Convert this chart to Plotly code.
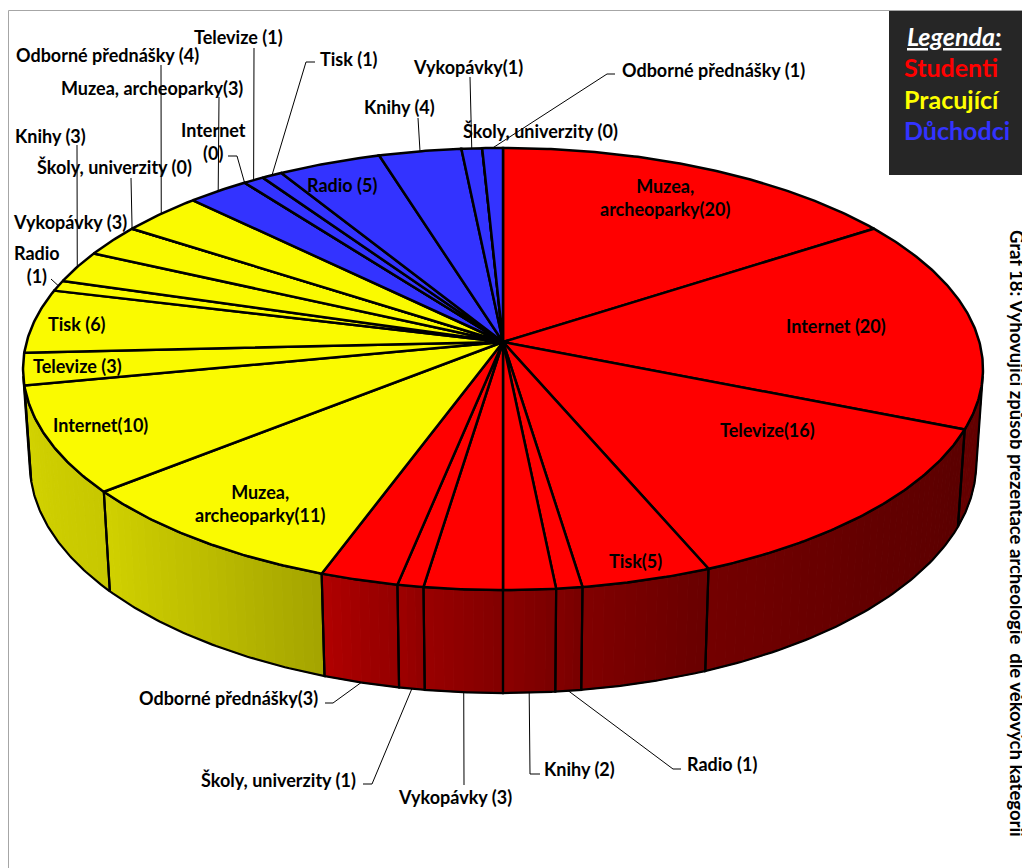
import numpy as np
import plotly.graph_objects as go

# ---------------- data ----------------
categories = ["Muzea, archeoparky", "Internet", "Televize", "Tisk", "Radio",
              "Knihy", "Vykopávky", "Školy, univerzity", "Odborné přednášky"]
groups = ["Studenti", "Pracující", "Důchodci"]
studenti = [20, 20, 16, 5, 1, 2, 3, 1, 3]
pracujici = [11, 10, 3, 6, 1, 3, 3, 0, 4]
duchodci = [3, 0, 1, 1, 5, 4, 1, 0, 1]
series = [studenti, pracujici, duchodci]

# ---------------- styles ----------------
TOP_COLORS = [(255, 0, 0), (250, 250, 0), (51, 51, 255)]
LEGEND_COLORS = ["#FF0000", "#FFFF00", "#3333FF"]
FONT = "Lato"
LABEL_SIZE = 18

# label layout per slice: (display name, separator, x, y, xanchor, leader elbow points)
LABELS = [
    [  # Studenti
        ("Muzea,<br>archeoparky", "", 665, 197, "center", None),
        ("Internet", " ", 836, 326, "center", None),
        ("Televize", "", 767, 430, "center", None),
        ("Tisk", "", 635, 561, "center", None),
        ("Radio", " ", 685, 764, "left", [(673, 769), (681, 769)]),
        ("Knihy", " ", 542, 769, "left", [(530, 774), (540, 774)]),
        ("Vykopávky", " ", 455, 797, "center", [(464, 785)]),
        ("Školy, univerzity", " ", 358, 780, "right", [(372, 784), (363, 784)]),
        ("Odborné přednášky", "", 320, 698, "right", [(333, 703), (325, 703)]),
    ],
    [  # Pracující
        ("Muzea,<br>archeoparky", "", 260, 503, "center", None),
        ("Internet", "", 100, 425, "center", None),
        ("Televize", " ", 77, 366, "center", None),
        ("Tisk", " ", 77, 324, "center", None),
        ("Radio", "<br>", 37, 264, "center", [(51, 279)]),
        ("Knihy", " ", 50, 136, "center", [(77, 145)]),
        ("Vykopávky", " ", 70, 222, "center", None),
        ("Školy, univerzity", " ", 114, 167, "center", [(131, 178)]),
        ("Odborné přednášky", " ", 107, 55, "center", [(161, 65)]),
    ],
    [  # Důchodci
        ("Muzea, archeoparky", "", 152, 88, "center", [(219, 97)]),
        ("Internet", "<br>", 213, 141, "center", [(237, 156), (228, 156)]),
        ("Televize", " ", 238, 37, "center", [(254, 48)]),
        ("Tisk", " ", 318, 59, "left", [(306, 62), (315, 62)]),
        ("Radio", " ", 342, 185, "center", None),
        ("Knihy", " ", 399, 107, "center", [(418, 118)]),
        ("Vykopávky", "", 468, 67, "center", [(470, 77)]),
        ("Školy, univerzity", " ", 540, 131, "center", None),
        ("Odborné přednášky", " ", 620, 70, "left", [(607, 74), (615, 74)]),
    ],
]

# ---------------- 3D projection ----------------
ALPHA = np.radians(27.2)
S, C = np.sin(ALPHA), np.cos(ALPHA)
DIST, FOC, H = 7.28, 3468.0, 0.225
CX, CY = 503.0, 342.0


def proj(theta_deg, y):
    t = np.radians(np.asarray(theta_deg, dtype=float))
    u, v = np.sin(t), np.cos(t)
    yc = v * S + y * C
    zc = DIST + v * C - y * S
    return CX + FOC * u / zc, CY - FOC * yc / zc


vis_lo = np.degrees(np.arccos(-1.0 / (DIST * C)))
vis_hi = 360.0 - vis_lo


def wall_factor(theta, t_local):
    base = np.interp(theta, [95, 135, 160, 175, 185, 195, 200, 215, 231, 265],
                     [0.37, 0.39, 0.44, 0.50, 0.56, 0.63, 0.68, 0.76, 0.82, 0.83])
    return base + 0.04 * (t_local - 0.5)


total = sum(sum(s) for s in series)
slices = []
acc = 0.0
for g, vals in enumerate(series):
    for i, v in enumerate(vals):
        a0 = acc / total * 360.0
        acc += v
        a1 = acc / total * 360.0
        slices.append((g, i, v, a0, a1))

fig = go.Figure()

# walls (gradient strips)
wall_outlines = []
for g, i, v, a0, a1 in slices:
    lo, hi = max(a0, vis_lo), min(a1, vis_hi)
    if hi <= lo:
        continue
    n = int(np.ceil((hi - lo) / 1.2))
    edges = np.linspace(lo, hi, n + 1)
    for k in range(n):
        ta, tb = edges[k], edges[k + 1]
        th = np.linspace(ta, tb, 4)
        xt, yt = proj(th, 0.0)
        xb, yb = proj(th[::-1], -H)
        mid = 0.5 * (ta + tb)
        f = wall_factor(mid, (mid - a0) / (a1 - a0))
        r, gg, b = TOP_COLORS[g]
        col = "rgb(%d,%d,%d)" % (r * f, gg * f, b * f)
        fig.add_trace(go.Scatter(
            x=np.concatenate([xt, xb, xt[:1]]), y=np.concatenate([yt, yb, yt[:1]]),
            mode="lines", fill="toself", fillcolor=col,
            line=dict(color=col, width=1), hoverinfo="skip", showlegend=False))
    wall_outlines.append((lo, hi))

for lo, hi in wall_outlines:
    th = np.linspace(lo, hi, 60)
    xt, yt = proj(th, 0.0)
    xb, yb = proj(th[::-1], -H)
    fig.add_trace(go.Scatter(
        x=np.concatenate([xt, xb, xt[:1]]), y=np.concatenate([yt, yb, yt[:1]]),
        mode="lines", line=dict(color="black", width=2.2),
        hoverinfo="skip", showlegend=False))

# top faces
for g, i, v, a0, a1 in slices:
    n = max(2, int(np.ceil((a1 - a0) / 0.5)) + 1)
    th = np.linspace(a0, a1, n)
    xr, yr = proj(th, 0.0)
    r, gg, b = TOP_COLORS[g]
    fig.add_trace(go.Scatter(
        x=np.concatenate([[CX], xr, [CX]]), y=np.concatenate([[CY], yr, [CY]]),
        mode="lines", fill="toself", fillcolor="rgb(%d,%d,%d)" % (r, gg, b),
        line=dict(color="black", width=2.5), hoverinfo="skip", showlegend=False))

# labels + leaders
annotations = []
for g, i, v, a0, a1 in slices:
    name, sep, lx, ly, xa, elbow = LABELS[g][i]
    text = "%s%s(%d)" % (name, sep, v)
    annotations.append(dict(x=lx, y=ly, xref="x", yref="y", text=text, showarrow=False,
                            xanchor=xa, yanchor="middle", align="center",
                            font=dict(family=FONT, size=LABEL_SIZE, color="black", weight="bold")))
    if elbow:
        mid = 0.5 * (a0 + a1)
        hgt = -H if vis_lo < mid < vis_hi else 0.0
        ax, ay = proj(mid, hgt)
        xs = [float(ax)] + [p[0] for p in elbow]
        ys = [float(ay)] + [p[1] for p in elbow]
        fig.add_trace(go.Scatter(x=xs, y=ys, mode="lines", line=dict(color="black", width=1),
                                 hoverinfo="skip", showlegend=False))

# legend box + chart border
shapes = [
    dict(type="rect", xref="x", yref="y", x0=8.5, y0=10.5, x1=1040, y1=880,
         line=dict(color="#A6A6A6", width=1), fillcolor="rgba(0,0,0,0)", layer="below"),
    dict(type="rect", xref="x", yref="y", x0=889, y0=11, x1=1031, y1=175,
         line=dict(width=0), fillcolor="#262626", layer="above"),
]
annotations.append(dict(x=954, y=36, xref="x", yref="y", text="<i><u>Legenda:</u></i>",
                        showarrow=False, xanchor="center", yanchor="middle",
                        font=dict(family=FONT, size=25, color="white", weight="bold")))
for k, (gname, col) in enumerate(zip(groups, LEGEND_COLORS)):
    annotations.append(dict(x=902, y=67 + 31.5 * k, xref="x", yref="y", text=gname,
                            showarrow=False, xanchor="left", yanchor="middle",
                            font=dict(family=FONT, size=25, color=col, weight="bold")))

annotations.append(dict(x=1017, y=534, xref="x", yref="y",
                        text="Graf 18: Vyhovující způsob prezentace archeologie  dle věkových kategorií",
                        showarrow=False, textangle=90, xanchor="center", yanchor="middle",
                        font=dict(family=FONT, size=18.5, color="black", weight="bold")))

# the page body has an 8px margin: map data units 1:1 to window pixels
fig.update_layout(
    width=1022, height=860, margin=dict(l=0, r=0, t=0, b=0),
    paper_bgcolor="white", plot_bgcolor="white",
    xaxis=dict(range=[8, 1030], visible=False, fixedrange=True),
    yaxis=dict(range=[868, 8], visible=False, fixedrange=True),
    shapes=shapes, annotations=annotations, showlegend=False,
)

fig.write_html("out.html")
